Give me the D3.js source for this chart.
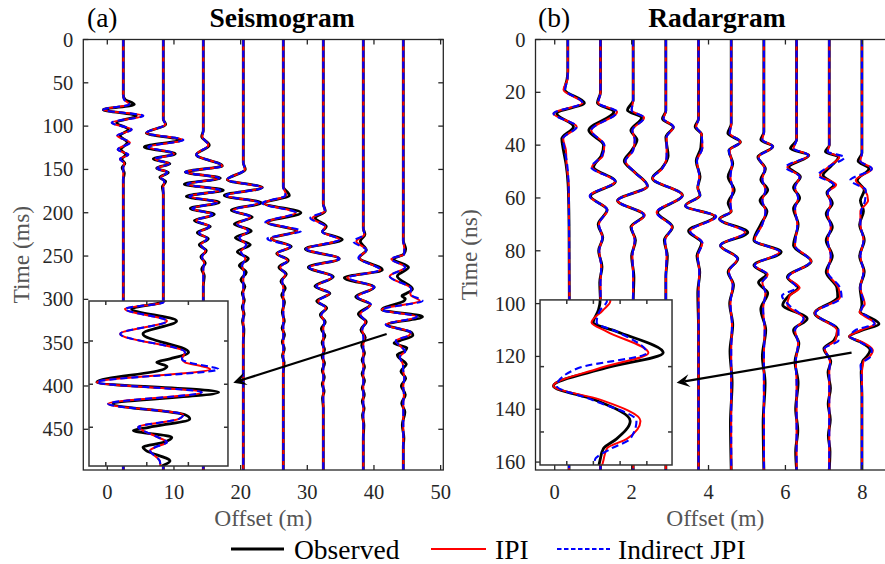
<!DOCTYPE html>
<html><head><meta charset="utf-8">
<script src="https://cdn.jsdelivr.net/npm/d3@7"></script>
<style>
body{margin:0;background:#fff;}
</style></head><body>
<svg id="fig" width="885" height="564" font-family="'Liberation Serif', 'DejaVu Serif', serif"></svg>
<script>
// ---- Seismogram traces: rows are [time (ms), observed, IPI, indirect JPI]; amplitudes normalised ----
const seisOffsets = [2.4, 8.4, 14.4, 20.4, 26.4, 32.4, 38.4, 44.4];
const seis1 = [[0,0,0,0],[64,0,0,0],[69,0.08,0.03,0.03],[75,0.55,0.3,0.3],[81,-1.0,-1.0,-1.0],[88,0.65,1.0,1.0],[96,-0.33,-0.58,-0.58],[104,0.25,0.42,0.42],[111,-0.15,-0.3,-0.3],[119,0.2,0.33,0.33],[127,-0.12,-0.28,-0.28],[133,0.12,0.25,0.25],[138,-0.08,-0.17,-0.17],[143,0.08,0.05,0.05],[148,-0.06,0,0],[154,0.05,0,0],[162,0,0,0],[497,0,0,0]];
const seis2 = [[0,0,0,0],[92,0,0,0],[98,0.12,0.1,0.1],[108,-0.85,-0.85,-0.85],[116,0.85,1.0,1.0],[124,-0.95,-0.75,-0.75],[132,0.6,0.55,0.55],[138,-0.5,-0.4,-0.4],[143.5,0.33,0.3,0.3],[148.5,-0.33,-0.3,-0.3],[153.5,0.25,0.2,0.2],[159,-0.17,-0.12,-0.12],[164,0.12,0.05,0.05],[170,-0.05,0,0],[178,0,0,0],[497,0,0,0]];
const seis3 = [[0,0,0,0],[105,0,0,0],[112,-0.08,-0.05,-0.05],[122,0.3,0.25,0.25],[133,-0.35,-0.35,-0.35],[146,0.95,0.95,0.95],[153,-0.9,-0.9,-0.9],[160,0.85,0.8,0.8],[167,-0.95,-0.8,-0.8],[174,1.0,0.85,0.85],[181,-0.85,-0.7,-0.7],[188,0.8,0.7,0.7],[195,-0.65,-0.55,-0.55],[202,0.55,0.45,0.45],[209,-0.45,-0.35,-0.35],[216,0.35,0.3,0.3],[223,-0.3,-0.22,-0.22],[230,0.25,0.18,0.18],[237,-0.2,-0.12,-0.12],[244,0.15,0.1,0.1],[251,-0.12,-0.06,-0.06],[258,0.1,0.04,0.04],[265,-0.08,0,0],[273,0.05,0,0],[285,0,0,0],[497,0,0,0]];
const seis4 = [[0,0,0,0],[142,0,0,0],[150,0.1,0.08,0.08],[162,-0.8,-0.8,-0.8],[171,0.95,0.95,0.95],[180,-0.95,-0.85,-0.85],[188.5,0.9,0.8,0.8],[197,-0.6,-0.5,-0.5],[205,0.45,0.35,0.35],[213,-0.45,-0.3,-0.3],[221,0.4,0.25,0.25],[229,-0.4,-0.2,-0.2],[237,0.35,0.15,0.15],[245,-0.3,-0.12,-0.12],[253,0.25,0.1,0.1],[261,-0.2,-0.06,-0.06],[269,0.15,0.04,0.04],[277,-0.12,0,0],[285,0.08,0,0],[293,-0.05,0,0],[301,0.05,0,0],[309,-0.05,0,0],[317,0.04,0,0],[325,-0.04,0,0],[335,0.03,0,0],[350,0,0,0],[497,0,0,0]];
const seis5 = [[0,0,0,0],[170,0,0,0],[180,0.3,0.15,0.1],[189,-0.95,-0.95,-1.05],[200,0.88,0.62,0.62],[211,-0.8,-0.8,-0.9],[221,0.65,0.7,0.9],[230,-0.6,-0.6,-0.8],[239,0.4,0.35,0.35],[247,-0.33,-0.3,-0.3],[255,0.25,0.2,0.2],[263,-0.22,-0.15,-0.15],[271,0.15,0.1,0.1],[279,-0.12,-0.06,-0.05],[287,0.1,0,0],[295,-0.08,0,0],[303,0.06,0,0],[315,-0.05,0,0],[325,0.05,0,0],[333,-0.06,0,0],[341,0.06,0,0],[349,-0.05,0,0],[357,0.05,0,0],[365,-0.04,0,0],[373,0.04,0,0],[385,0,0,0],[497,0,0,0]];
const seis6 = [[0,0,0,0],[190,0,0,0],[198,0.1,0.08,0.08],[206,-0.4,-0.55,-0.65],[216,0.15,0.1,0.1],[222,-0.05,-0.05,-0.05],[231,0.95,0.8,0.8],[242,-0.9,-0.85,-0.85],[253,0.8,0.8,0.8],[263,-0.75,-0.7,-0.7],[274,0.5,0.45,0.45],[285,-0.42,-0.35,-0.35],[293,0.33,0.3,0.3],[302,-0.33,-0.25,-0.25],[310,0.17,0.12,0.12],[318,-0.15,-0.1,-0.1],[326,0.1,0.05,0.05],[334,-0.1,0,0],[342,0.08,0,0],[350,-0.06,0,0],[358,0.06,0,0],[366,-0.06,0,0],[374,0.06,0,0],[382,-0.05,0,0],[390,0.05,0,0],[398,-0.05,0,0],[406,0.04,0,0],[414,-0.04,0,0],[425,0,0,0],[497,0,0,0]];
const seis7 = [[0,0,0,0],[218,0,0,0],[225,0.08,0.05,0.05],[233,-0.15,-0.35,-0.5],[243,0.15,0.15,0.15],[252,-0.2,-0.2,-0.25],[266,0.95,0.85,0.85],[275,-0.95,-0.8,-0.75],[286,0.55,0.5,0.55],[297,-0.38,-0.3,-0.3],[306,0.35,0.35,0.38],[317,-0.25,-0.15,-0.15],[326,0.15,0.1,0.1],[335,-0.12,-0.06,-0.05],[344,0.1,0.05,0],[353,-0.08,0,0],[362,0.06,0,0],[370,-0.06,0,0],[378,0.06,0,0],[386,-0.06,0,0],[394,0.06,0,0],[402,-0.05,0,0],[410,0.05,0,0],[418,-0.05,0,0],[426,0.04,0,0],[434,-0.04,0,0],[445,0.03,0,0],[460,0,0,0],[497,0,0,0]];
const seis8 = [[0,0,0,0],[232,0,0,0],[242,0.12,0.05,0.05],[248,0.01,0.04,0.04],[253.3,-0.49,-0.6,-0.6],[263,0.26,0.1,0.1],[273.3,-0.3,-0.68,-0.68],[288,0.46,0.4,0.4],[293.3,0.15,0.35,0.35],[296,-0.07,0.4,0.45],[299.4,0.1,0.7,0.8],[301.5,0.05,0.82,0.96],[312,-1.07,-1.07,-1.07],[320,0.96,0.68,0.68],[329.3,-0.8,-0.88,-0.88],[338,0.4,0.37,0.37],[341.3,0.48,0.3,0.3],[348,-0.2,-0.38,-0.38],[350.6,-0.46,-0.3,-0.3],[356,0.18,-0.05,-0.05],[360,0.05,0.1,0.1],[364,-0.3,-0.1,-0.1],[366.6,-0.25,-0.18,-0.18],[375,0.15,-0.02,-0.02],[383,-0.12,0,0],[391,0.12,0.05,0.05],[400,-0.1,0,0],[410,0.1,0.03,0.03],[420,-0.08,0,0],[430,0.08,0,0],[445,-0.05,0,0],[460,0.03,0,0],[470,0,0,0],[497,0,0,0]];

// ---- Radargram traces: rows are [time (ns), observed, IPI, indirect JPI] ----
const radarOffsets = [0.34, 1.19, 2.04, 2.89, 3.74, 4.59, 5.44, 6.29, 7.14, 7.99];
const radar1 = [[0,0,0,0],[12,0,0,0],[15,-0.05,-0.02,-0.02],[19,-0.2,-0.28,-0.18],[24,1.08,0.95,0.95],[28,-0.72,-0.93,-0.93],[33,0.37,0.58,0.58],[37.5,-0.39,-0.3,-0.3],[42,-0.28,-0.12,-0.2],[47,-0.12,-0.08,-0.05],[55,0.02,0.05,0.05],[70,0.08,0.08,0.08],[100,0.1,0.1,0.1],[163,0.08,0.08,0.08]];
const radar2 = [[0,0,0,0],[20,0,0,0],[24,-0.2,-0.15,-0.15],[27.4,0.87,1.08,1.08],[34.4,-0.76,-0.6,-0.6],[40,0.2,0.25,0.25],[44,0.05,0.15,0.1],[48.3,-0.45,-0.55,-0.6],[53.8,0.97,0.95,0.97],[59.3,-0.65,-0.7,-0.7],[64.5,0.43,0.45,0.43],[70,-0.15,-0.1,-0.1],[75,0.15,0.12,0.12],[80,-0.12,-0.08,-0.08],[86,0.1,0.05,0.05],[92,-0.05,0,0],[100,0,0,0],[163,0,0,0]];
const radar3 = [[0,0,0,0],[23,0,0,0],[26.8,-0.37,-0.1,-0.1],[29.6,0.55,0.71,0.71],[34.4,-0.15,-0.05,-0.05],[38,0.25,0.1,0.1],[42,-0.1,0,0],[46,-0.58,-0.5,-0.5],[50,0.05,0.05,0.05],[55.5,0.93,0.93,0.93],[61,-1.02,-1.02,-1.0],[66.5,0.71,0.75,0.7],[71,-0.15,-0.1,-0.1],[76,0.15,0.1,0.1],[82,-0.1,-0.05,-0.05],[90,0.05,0,0],[100,0,0,0],[163,0,0,0]];
const radar4 = [[0,0,0,0],[27,0,0,0],[30,-0.22,-0.15,-0.15],[33.1,0.48,0.5,0.5],[37,0,0.05,0.05],[44,0.15,0.05,0.05],[49,-0.3,-0.25,-0.25],[52.5,-0.87,-0.85,-0.85],[59,1.08,1.08,1.08],[65.5,-0.54,-0.6,-0.6],[71,0.43,0.4,0.4],[76,-0.1,-0.05,-0.05],[82,0.1,0.05,0.05],[90,0,0,0],[163,0,0,0]];
const radar5 = [[0,0,0,0],[30,0,0,0],[33,-0.22,-0.15,-0.15],[36,0.2,0.2,0.2],[41,0.15,0.25,0.25],[46,-0.15,-0.1,-0.1],[52,0.1,0.05,0.05],[56,-0.05,-0.05,-0.05],[59,0.1,0.1,0.1],[63,-0.85,-0.85,-0.85],[67,1.05,1.1,1.15],[72.5,-0.65,-0.55,-0.55],[77,0.2,0.25,0.25],[82,-0.1,-0.05,-0.05],[88,0.08,0.05,0.05],[96,-0.05,0,0],[110,0,0,0],[163,0,0,0]];
const radar6 = [[0,0,0,0],[32,0,0,0],[35.5,-0.22,-0.1,-0.1],[38.8,0.6,0.6,0.6],[42,-0.15,-0.1,-0.15],[47,0.1,0.05,0.05],[52,-0.2,-0.05,-0.05],[57,0.2,0.1,0.1],[62,-0.2,-0.05,-0.05],[65,0,0,0],[68,-0.76,-0.76,-0.76],[73,1.08,0.9,0.95],[78,-0.7,-0.7,-0.7],[83,0.43,0.4,0.4],[88,-0.2,-0.15,-0.15],[93,0.15,0.1,0.1],[100,-0.1,-0.05,-0.05],[108,0.1,0.05,0.05],[118,-0.08,0,0],[130,0.06,0,0],[145,-0.05,0,0],[163,0,0,0]];
const radar7 = [[0,0,0,0],[35,0,0,0],[38,-0.2,-0.1,-0.1],[40.5,0.58,0.58,0.58],[44.5,-0.39,-0.35,-0.35],[49,0.1,0.05,0.05],[53,-0.2,-0.1,-0.1],[57,0.25,0.1,0.1],[61,-0.25,-0.1,-0.1],[65,0.2,0.1,0.1],[70,-0.2,-0.1,-0.1],[76,-0.65,-0.6,-0.6],[80.5,1.13,1.0,1.05],[85.5,-0.65,-0.6,-0.6],[89,0.15,0.25,0.25],[92,-0.35,-0.1,-0.1],[96,0.25,0.1,0.1],[102,-0.2,-0.05,-0.05],[110,0.12,0.05,0.05],[120,-0.1,0,0],[130,0.08,0,0],[145,-0.05,0,0],[163,0,0,0]];
const radar8 = [[0,0,0,0],[38,0,0,0],[41.3,-0.4,-0.2,-0.2],[43.8,0.8,0.8,0.75],[48.3,-0.5,-0.6,-0.71],[52,0.25,0.2,0.2],[56,-0.2,-0.1,-0.1],[60,0.2,0.1,0.1],[64,-0.2,-0.1,-0.1],[70,0.1,0.05,0.05],[78,-0.2,-0.1,-0.1],[84,0.95,0.95,0.9],[90,-0.6,-0.55,-0.55],[94,0.1,0.2,0],[97,-0.5,-0.45,-0.95],[100.5,-0.9,-0.6,-0.5],[105.7,0.69,0.5,0.45],[110,-0.2,-0.1,-0.1],[115,0.15,0.1,0.1],[122,-0.1,-0.05,-0.05],[130,0.1,0,0],[140,-0.06,0,0],[148,0.08,0,0],[156,-0.06,0,0],[163,0,0,0]];
const radar9 = [[0,0,0,0],[40,0,0,0],[42.5,-0.25,-0.1,-0.1],[44.5,0.6,0.65,1.0],[48,0.1,0,0],[51.4,-0.4,-0.6,-0.71],[55,0.3,0.45,0.3],[58,-0.15,-0.1,-0.1],[62,0.2,0.1,0.1],[66,-0.2,-0.1,-0.1],[71,0.2,0.1,0.1],[76,-0.2,-0.1,-0.1],[82,0.2,0.1,0.1],[88,-0.2,-0.1,-0.1],[94,0.5,0.6,0.7],[97.5,0.55,0.7,0.8],[103.6,-0.95,-0.95,-0.9],[110,0.55,0.5,0.6],[114,0.3,0.4,0.6],[117,-0.35,-0.3,-0.3],[122,0.1,0.05,0.05],[126,-0.08,0,0],[132,0.08,0,0],[138,-0.07,0,0],[144,0.07,0,0],[150,-0.06,0,0],[156,0.05,0,0],[163,0,0,0]];
const radar10 = [[0,0,0,0],[43,0,0,0],[46,-0.25,-0.1,-0.1],[48.9,0.45,0.65,0.65],[53.3,-0.3,-0.4,-0.76],[57,0.15,0.2,0.25],[61,-0.1,0.4,0.2],[65,0.1,-0.1,-0.05],[70,-0.15,-0.1,-0.1],[76,0.15,0.1,0.1],[82,-0.15,-0.1,-0.1],[88,0.15,0.1,0.1],[94,-0.12,-0.1,-0.1],[100.2,0,0.18,0.12],[101.5,-0.03,0.05,0],[103.3,-0.12,-0.15,-0.06],[104.6,0.29,0.12,0.29],[107.7,1.11,0.85,0.82],[109.9,0.1,0,-0.38],[112.5,-0.82,-0.82,-0.76],[114.5,-0.1,0,-0.15],[117.6,0.53,0.71,0.64],[120.2,0.29,0.47,0.53],[121.6,0.06,0.12,0.2],[123.3,0,0.06,-0.09],[126,-0.05,0,-0.05],[135,0,0,0],[163,0,0,0]];

// ---- axis ticks and legend ----
const seisOffsetTicks = [0, 10, 20, 30, 40, 50];
const seisTimeTicks = [0, 50, 100, 150, 200, 250, 300, 350, 400, 450];
const radarOffsetTicks = [0, 2, 4, 6, 8];
const radarTimeTicks = [0, 20, 40, 60, 80, 100, 120, 140, 160];
const seriesNames = ["Observed", "IPI", "Indirect JPI"];

const serif = "'Liberation Serif', 'Times New Roman', 'DejaVu Serif', serif";
const seriesStyle = [
  {color: "#000000", width: 2.8, dash: null},
  {color: "#ff0000", width: 2.0, dash: null},
  {color: "#0000ff", width: 2.1, dash: "7,4"}
];

const svg = d3.select("#fig");
const axisColor = "#262626";

function label(g, x, y, str, size, opts = {}) {
  return g.append("text").attr("x", x).attr("y", y)
    .attr("font-family", serif).attr("font-size", size)
    .attr("text-anchor", opts.anchor || "start")
    .attr("font-weight", opts.weight || "normal")
    .attr("fill", opts.fill || "#000").text(str);
}

function drawTraces(g, traces, offsets, x, y, gain) {
  traces.forEach((rows, i) => {
    [1, 2, 3].forEach(col => {
      const st = seriesStyle[col - 1];
      const line = d3.line()
        .x(r => x(offsets[i] + r[col] * gain))
        .y(r => y(r[0]))
        .curve(d3.curveMonotoneY);
      g.append("path").attr("d", line(rows))
        .attr("fill", "none").attr("stroke", st.color)
        .attr("stroke-width", st.width)
        .attr("stroke-dasharray", st.dash)
        .attr("stroke-linejoin", "round");
    });
  });
}

function boxTicks(g, x, y, xt, yt, len, color, width) {
  const [x0, x1] = x.range(), [y0, y1] = y.range();
  xt.forEach(v => {
    g.append("line").attr("x1", x(v)).attr("x2", x(v)).attr("y1", y1).attr("y2", y1 - len);
    g.append("line").attr("x1", x(v)).attr("x2", x(v)).attr("y1", y0).attr("y2", y0 + len);
  });
  yt.forEach(v => {
    g.append("line").attr("y1", y(v)).attr("y2", y(v)).attr("x1", x0).attr("x2", x0 + len);
    g.append("line").attr("y1", y(v)).attr("y2", y(v)).attr("x1", x1).attr("x2", x1 - len);
  });
  g.selectAll("line").attr("stroke", color).attr("stroke-width", width);
  g.append("rect").attr("x", x0).attr("y", y0).attr("width", x1 - x0).attr("height", y1 - y0)
    .attr("fill", "none").attr("stroke", color).attr("stroke-width", width);
}

function arrow(g, x1, y1, x2, y2) {
  const ang = Math.atan2(y2 - y1, x2 - x1);
  const L = 13, Wd = 6.5, notch = 5;
  const bx = x2 - L * Math.cos(ang), by = y2 - L * Math.sin(ang);
  const nx = x2 - (L - notch) * Math.cos(ang), ny = y2 - (L - notch) * Math.sin(ang);
  const px = -Math.sin(ang), py = Math.cos(ang);
  g.append("line").attr("x1", x1).attr("y1", y1).attr("x2", nx).attr("y2", ny)
    .attr("stroke", "#000").attr("stroke-width", 2.3);
  g.append("path")
    .attr("d", `M${x2},${y2}L${bx + px * Wd},${by + py * Wd}L${nx},${ny}L${bx - px * Wd},${by - py * Wd}Z`)
    .attr("fill", "#000");
}

const panels = [
  {
    id: "seis", left: 83.3, right: 443.3, top: 39.5, bottom: 470,
    xDomain: [-3.6, 50.4], yDomain: [0, 497],
    xTicks: seisOffsetTicks, yTicks: seisTimeTicks,
    traces: [seis1, seis2, seis3, seis4, seis5, seis6, seis7, seis8],
    offsets: seisOffsets, gain: 3,
    tag: "(a)", tagX: 87, title: "Seismogram", titleX: 282, ylabel: "Time (ms)", ylabelX: 29,
    inset: {trace: 7, box: [-2.745, 18.1, 301.9, 492.4], time: [247, 379], offset: [40.8, 47.75],
            xTicks: [41.64, 43.69, 45.77], yTicks: [279, 313.6, 348], gain: 3},
    arrow: [41.9, 340, 18.9, 396.2]
  },
  {
    id: "radar", left: 535.5, right: 895, top: 39.5, bottom: 470,
    xDomain: [-0.5, 8.85], yDomain: [0, 163],
    xTicks: radarOffsetTicks, yTicks: radarTimeTicks,
    traces: [radar1, radar2, radar3, radar4, radar5, radar6, radar7, radar8, radar9, radar10],
    offsets: radarOffsets, gain: 0.4,
    tag: "(b)", tagX: 538, title: "Radargram", titleX: 717, ylabel: "Time (ns)", ylabelX: 477,
    inset: {trace: 9, box: [-0.382, 3.051, 98.6, 161.1], time: [100, 124], offset: [7.568, 8.496],
            xTicks: [7.756, 7.943, 8.131, 8.319], yTicks: [109.7, 119.2], gain: 0.4},
    arrow: [7.72, 118.6, 3.17, 130]
  }
];

panels.forEach(p => {
  const x = d3.scaleLinear().domain(p.xDomain).range([p.left, p.right]);
  const y = d3.scaleLinear().domain(p.yDomain).range([p.top, p.bottom]);
  const g = svg.append("g");
  const clipId = "clip-" + p.id;
  svg.append("clipPath").attr("id", clipId).append("rect")
    .attr("x", p.left).attr("y", p.top).attr("width", p.right - p.left).attr("height", p.bottom - p.top);

  const tg = g.append("g").attr("clip-path", `url(#${clipId})`);
  drawTraces(tg, p.traces, p.offsets, x, y, p.gain);

  // main axes box with inward ticks
  boxTicks(g.append("g"), x, y, p.xTicks, p.yTicks, 5, axisColor, 1.3);

  // tick labels
  p.xTicks.forEach(v => label(g, x(v), p.bottom + 29, v, 20.5, {anchor: "middle", fill: axisColor}));
  p.yTicks.forEach(v => label(g, p.left - 10, y(v) + 7, v, 20.5, {anchor: "end", fill: axisColor}));

  // axis labels
  label(g, (p.left + Math.min(p.right, 895)) / 2, 526, "Offset (m)", 23.5, {anchor: "middle", fill: "#555"});
  label(g, 0, 0, p.ylabel, 23.5, {anchor: "middle", fill: "#555"})
    .attr("transform", `translate(${p.ylabelX},${(p.top + p.bottom) / 2}) rotate(-90)`);

  // titles
  label(g, p.tagX, 27, p.tag, 27.5);
  label(g, p.titleX, 27, p.title, 27.5, {anchor: "middle", weight: "bold"});

  // zoomed inset of one trace
  const ins = p.inset;
  const bx0 = x(ins.box[0]), bx1 = x(ins.box[1]), by0 = y(ins.box[2]), by1 = y(ins.box[3]);
  const ix = d3.scaleLinear().domain(ins.offset).range([bx0, bx1]);
  const iy = d3.scaleLinear().domain(ins.time).range([by0, by1]);
  const ig = g.append("g");
  ig.append("rect").attr("x", bx0).attr("y", by0).attr("width", bx1 - bx0).attr("height", by1 - by0).attr("fill", "#fff");
  const iclip = "iclip-" + p.id;
  svg.append("clipPath").attr("id", iclip).append("rect")
    .attr("x", bx0).attr("y", by0).attr("width", bx1 - bx0).attr("height", by1 - by0);
  const itg = ig.append("g").attr("clip-path", `url(#${iclip})`);
  drawTraces(itg, [p.traces[ins.trace]], [p.offsets[ins.trace]], ix, iy, ins.gain);
  boxTicks(ig.append("g"), ix, iy, ins.xTicks, ins.yTicks, 4, "#333", 1.5);

  // pointer from the trace to its inset
  arrow(g, x(p.arrow[0]), y(p.arrow[1]), x(p.arrow[2]), y(p.arrow[3]));
});

// legend
const legend = svg.append("g");
const legendLayout = [{x0: 231, x1: 284, tx: 294}, {x0: 431, x1: 486, tx: 495}, {x0: 557, x1: 610, tx: 618}];
seriesNames.forEach((name, i) => {
  const st = seriesStyle[i], L = legendLayout[i];
  legend.append("line").attr("x1", L.x0).attr("x2", L.x1).attr("y1", 549).attr("y2", 549)
    .attr("stroke", st.color).attr("stroke-width", i === 0 ? 2.8 : 2.2).attr("stroke-dasharray", st.dash ? "4.5,2.5" : null);
  label(legend, L.tx, 558.5, name, 27.5);
});
</script>
</body></html>
